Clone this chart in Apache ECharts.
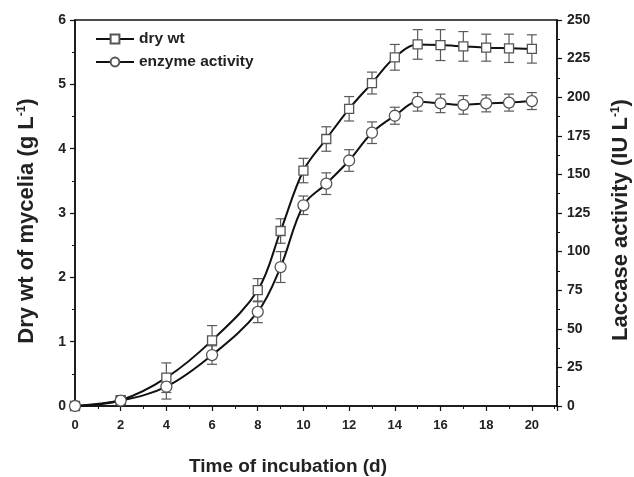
<!DOCTYPE html>
<html><head><meta charset="utf-8">
<script src="https://cdn.jsdelivr.net/npm/echarts@6/dist/echarts.min.js"></script>
<style>html,body{margin:0;padding:0;background:#fff}#c{width:634px;height:477px}</style>
</head><body><div id="c"></div>
<script>
const days = [0, 2, 4, 6, 8, 9, 10, 11, 12, 13, 14, 15, 16, 17, 18, 19, 20];
const dryWt = [0, 0.09, 0.44, 1.02, 1.80, 2.72, 3.66, 4.15, 4.62, 5.02, 5.42, 5.62, 5.61, 5.59, 5.57, 5.56, 5.55];
const dryWtErr = [0.02, 0.06, 0.23, 0.23, 0.18, 0.19, 0.19, 0.19, 0.19, 0.17, 0.2, 0.23, 0.24, 0.23, 0.21, 0.22, 0.22];
const enzyme = [0, 3.5, 12.5, 33, 61, 90, 130, 144, 159, 177, 188, 197, 196, 195, 196, 196.5, 197.5];
const enzymeErr = [0.5, 1.5, 8, 6, 7, 10, 6, 7, 7, 7, 5.5, 6, 6, 6, 5.5, 5.5, 5.5];
const xTicks = [0, 2, 4, 6, 8, 10, 12, 14, 16, 18, 20];
const leftTicks = [0, 1, 2, 3, 4, 5, 6];
const rightTicks = [0, 25, 50, 75, 100, 125, 150, 175, 200, 225, 250];

const FONT = '"Liberation Sans", Arial, sans-serif';
const chart = echarts.init(document.getElementById('c'), null, {renderer: 'canvas'});

function errSeries(vals, errs, yIdx) {
  return {
    type: 'custom',
    yAxisIndex: yIdx,
    z: 1,
    silent: true,
    data: days.map((d, i) => [d, vals[i] - errs[i], vals[i] + errs[i]]),
    renderItem: function (params, api) {
      const lo = api.coord([api.value(0), api.value(1)]);
      const hi = api.coord([api.value(0), api.value(2)]);
      const w = 5;
      const st = {stroke: '#5a5a5a', lineWidth: 1.2};
      return {
        type: 'group',
        children: [
          {type: 'line', shape: {x1: lo[0], y1: lo[1], x2: hi[0], y2: hi[1]}, style: st},
          {type: 'line', shape: {x1: lo[0] - w, y1: lo[1], x2: lo[0] + w, y2: lo[1]}, style: st},
          {type: 'line', shape: {x1: hi[0] - w, y1: hi[1], x2: hi[0] + w, y2: hi[1]}, style: st}
        ]
      };
    },
    encode: {x: 0, y: [1, 2]}
  };
}

const axisCommon = {
  axisLine: {show: true, lineStyle: {color: '#111', width: 1.5}},
  axisTick: {show: true, inside: false, length: 5, lineStyle: {color: '#111', width: 1.2}},
  minorTick: {show: true, splitNumber: 2, length: 3, lineStyle: {color: '#111', width: 1}},
  splitLine: {show: false},
  axisLabel: {color: '#222', fontFamily: FONT, fontWeight: 'bold', fontSize: 14}
};
const titleRich = {
  a: {fontFamily: FONT, fontWeight: 'bold', fontSize: 22, color: '#222'},
  s: {fontFamily: FONT, fontWeight: 'bold', fontSize: 12, color: '#222', verticalAlign: 'top', padding: [0, 0, 10, 0]}
};

chart.setOption({
  animation: false,
  backgroundColor: '#fff',
  grid: {left: 75, right: 77, top: 20, bottom: 71, show: true, borderColor: '#111', borderWidth: 1.5,
         containLabel: false, outerBoundsMode: 'none'},
  legend: {
    orient: 'vertical', left: 90, top: 26, itemGap: 7, itemWidth: 38, itemHeight: 11,
    textStyle: {fontFamily: FONT, fontWeight: 'bold', fontSize: 15.5, color: '#222'},
    data: ['dry wt', 'enzyme activity']
  },
  xAxis: Object.assign({}, axisCommon, {
    type: 'value', min: 0, max: 21.1, interval: 2,
    axisLabel: Object.assign({}, axisCommon.axisLabel, {showMaxLabel: false, margin: 13, fontSize: 13}),
    name: 'Time of incubation (d)', nameLocation: 'middle', nameGap: 51,
    nameTextStyle: {fontFamily: FONT, fontWeight: 'bold', fontSize: 19, color: '#222', padding: [0, 56, 0, 0]}
  }),
  yAxis: [
    Object.assign({}, axisCommon, {
      type: 'value', min: 0, max: 6, interval: 1, position: 'left',
      axisLabel: Object.assign({}, axisCommon.axisLabel, {margin: 9}),
      name: '{a|Dry wt of mycelia (g L}{s|-1}{a|)}', nameLocation: 'middle', nameGap: 37,
      nameTextStyle: {rich: titleRich, padding: [0, 16, 0, 0]}
    }),
    Object.assign({}, axisCommon, {
      type: 'value', min: 0, max: 250, interval: 25, position: 'right',
      axisLabel: Object.assign({}, axisCommon.axisLabel, {margin: 10}),
      name: '{a|Laccase activity (IU L}{s|-1}{a|)}', nameLocation: 'middle', nameGap: 53, nameRotate: 90,
      nameTextStyle: {rich: titleRich, padding: [0, 14, 0, 0]}
    })
  ],
  series: [
    errSeries(dryWt, dryWtErr, 0),
    errSeries(enzyme, enzymeErr, 1),
    {
      name: 'dry wt', type: 'line', yAxisIndex: 0, z: 3, smooth: 0.35,
      data: days.map((d, i) => [d, dryWt[i]]),
      symbol: 'rect', symbolSize: 9,
      lineStyle: {color: '#111', width: 2},
      itemStyle: {color: '#fff', borderColor: '#555', borderWidth: 1.3}
    },
    {
      name: 'enzyme activity', type: 'line', yAxisIndex: 1, z: 3, smooth: 0.35,
      data: days.map((d, i) => [d, enzyme[i]]),
      symbol: 'circle', symbolSize: 11,
      lineStyle: {color: '#111', width: 2},
      itemStyle: {color: '#fff', borderColor: '#555', borderWidth: 1.3}
    }
  ]
});
</script></body></html>
